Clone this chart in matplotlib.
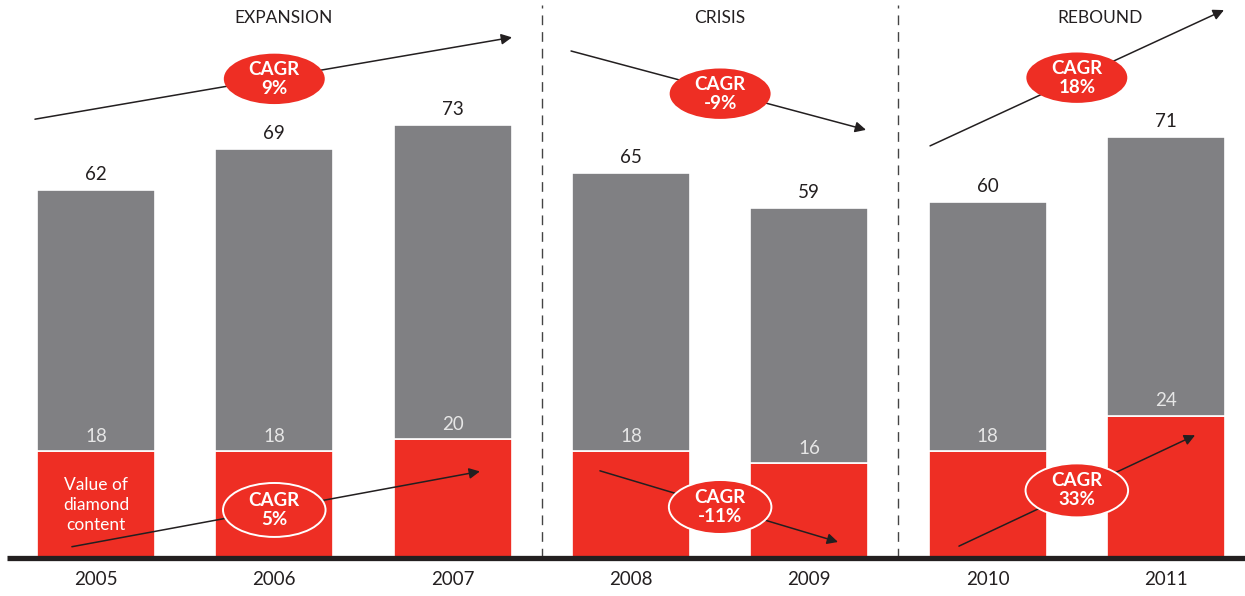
import matplotlib
matplotlib.use("Agg")
import matplotlib.pyplot as plt
from matplotlib.patches import Ellipse

plt.rcParams['font.family'] = ['Lato', 'DejaVu Sans']

years = ["2005", "2006", "2007", "2008", "2009", "2010", "2011"]
total_value = [62, 69, 73, 65, 59, 60, 71]
diamond_value = [18, 18, 20, 18, 16, 18, 24]

phases = ["EXPANSION", "CRISIS", "REBOUND"]
phase_span = [(0, 2), (3, 4), (5, 6)]
cagr_total = ["9%", "-9%", "18%"]
cagr_diamond = ["5%", "-11%", "33%"]

RED = "#ee2e24"
GREY = "#808083"
INK = "#231f20"

fig = plt.figure(figsize=(12.45, 5.96), dpi=100)
ax = fig.add_axes([0, 0, 1, 1])
ax.set_xlim(-0.538, 6.443)
ax.set_ylim(-6.41, 94.1)
ax.axis("off")

x = list(range(len(years)))
w = 0.663
rest = [t - d for t, d in zip(total_value, diamond_value)]
ax.bar(x, diamond_value, width=w, color=RED, edgecolor="white", linewidth=1.2, zorder=2)
ax.bar(x, rest, width=w, bottom=diamond_value, color=GREY, edgecolor="white", linewidth=1.2, zorder=2)

for i in x:
    ax.text(i, total_value[i] + 2.6, str(total_value[i]), ha="center", va="center",
            fontsize=13.5, color=INK)
    ax.text(i, diamond_value[i] + 2.5, str(diamond_value[i]), ha="center", va="center",
            fontsize=13.5, color="#e6e6e6", zorder=3)
    ax.text(i, -3.7, years[i], ha="center", va="center", fontsize=13.5, color=INK)

ax.text(0, 9.0, "Value of\ndiamond\ncontent", ha="center", va="center", fontsize=12.5,
        color="white", linespacing=1.3, zorder=3)

# baseline
ax.plot([-0.5, 6.443], [0, 0], color=INK, lw=3.8, solid_capstyle="butt", zorder=4)

# phase separators
for sep in [2.5, 4.5]:
    ax.plot([sep, sep], [0, 93.3], color="#444444", lw=1, dashes=(7, 5), zorder=1)

# phase titles
title_x = [1.054, 3.5, 5.63]
for name, tx in zip(phases, title_x):
    ax.text(tx, 91.1, name, ha="center", va="center", fontsize=12.5, color=INK)

# trend arrows (start, end) for total value and diamond content
arrows_top = [((-0.342, 74.0), (2.333, 87.8)),
              ((2.664, 85.5), (4.318, 72.2)),
              ((4.677, 69.5), (6.325, 92.4))]
arrows_bottom = [((-0.135, 1.9), (2.153, 14.6)),
                 ((2.826, 14.7), (4.161, 2.7)),
                 ((4.839, 2.0), (6.163, 20.7))]
for a, b in arrows_top + arrows_bottom:
    ax.annotate("", xy=b, xytext=a,
                arrowprops=dict(arrowstyle="-|>", lw=1.1, color=INK, mutation_scale=16,
                                shrinkA=0, shrinkB=0), zorder=5)

top_y = [80.8, 78.3, 81.0]
bottom_y = [8.1, 8.6, 11.4]
for k, (s, e) in enumerate(phase_span):
    cx = (s + e) / 2
    ax.add_patch(Ellipse((cx, top_y[k]), 0.566, 8.5, facecolor=RED, edgecolor="none", zorder=6))
    ax.text(cx, top_y[k], "CAGR\n" + cagr_total[k], ha="center", va="center", fontsize=13.5,
            fontweight="bold", color="white", linespacing=1.15, zorder=7)
    ax.add_patch(Ellipse((cx, bottom_y[k]), 0.575, 9.1, facecolor=RED, edgecolor="white",
                         lw=1.4, zorder=6))
    ax.text(cx, bottom_y[k], "CAGR\n" + cagr_diamond[k], ha="center", va="center", fontsize=13.5,
            fontweight="bold", color="white", linespacing=1.15, zorder=7)

fig.savefig("out.png", dpi=100)
